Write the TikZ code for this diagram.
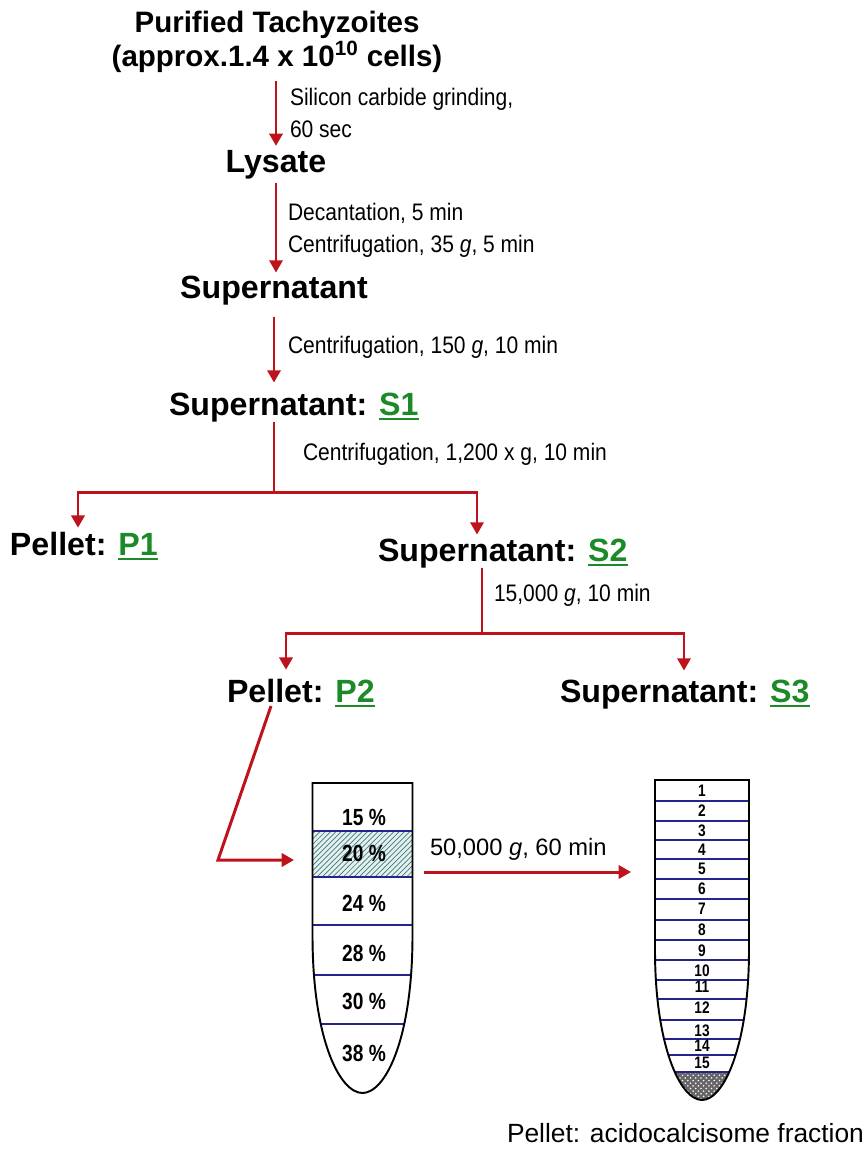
\documentclass[tikz,border=0pt]{standalone}
\usepackage{fontspec}
\setmainfont{Liberation Sans}
\newfontfamily\narrowfont{Liberation Sans}[FakeStretch=0.88]
\newfontfamily\tubefont{Liberation Sans}[FakeStretch=0.82]
\usepackage{tikz}
\usetikzlibrary{arrows.meta}
\usetikzlibrary{calc}
\usetikzlibrary{patterns}
\definecolor{arrowred}{RGB}{190,18,28}
\definecolor{fracgreen}{RGB}{28,138,40}
\definecolor{bandblue}{RGB}{36,36,140}
\definecolor{hatchteal}{RGB}{55,125,125}
\newcommand{\greenfrac}[1]{\textcolor{fracgreen}{\setbox0\hbox{#1}\rlap{\rule[-3pt]{\wd0}{1.1pt}}\box0}}

\begin{document}
\begin{tikzpicture}[x=0.02cm,y=-0.02cm,>={Triangle[length=7pt,width=7.5pt]},
  flow/.style={->,arrowred,line width=1.7pt},
  redline/.style={arrowred,line width=1.7pt},
  every node/.style={inner sep=0pt,outer sep=0pt},
  stage/.style={font=\fontsize{18.3}{22}\selectfont\bfseries},
  cond/.style={font=\narrowfont\fontsize{13.6}{18.2}\selectfont,align=left},
  pct/.style={font=\tubefont\fontsize{13.3}{16}\selectfont\bfseries},
  fracnum/.style={font=\tubefont\fontsize{9.5}{11}\selectfont\bfseries}]

  \useasboundingbox (0,0) rectangle (865,1157);

  \node[font=\fontsize{16.8}{19.2}\selectfont\bfseries,align=center,anchor=north] (tachy) at (277,11) {Purified Tachyzoites\\(approx.1.4 x 10\textsuperscript{10} cells)};
  \node[cond,anchor=north west] (grind) at (290,88) {Silicon carbide grinding,\\60 sec};
  \node[stage,anchor=base] (lys) at (276,172) {Lysate};
  \node[cond,anchor=north west] (decant) at (288,203) {Decantation, 5 min\\Centrifugation, 35 \textit{g}, 5 min};
  \node[stage,anchor=base] (sup) at (274,298) {Supernatant};
  \node[cond,anchor=base west] (c150) at (288,353) {Centrifugation, 150 \textit{g}, 10 min};
  \node[stage,anchor=base west] (s1) at (169,415) {Supernatant: \greenfrac{S1}};
  \node[cond,anchor=base west] (c1200) at (303,460) {Centrifugation, 1,200 x g, 10 min};
  \node[stage,anchor=base west] (p1) at (10,555) {Pellet: \greenfrac{P1}};
  \node[stage,anchor=base west] (s2) at (378,561) {Supernatant: \greenfrac{S2}};
  \node[cond,anchor=base west] (c15000) at (494,601) {15,000 \textit{g}, 10 min};
  \node[stage,anchor=base west] (p2) at (227,702) {Pellet: \greenfrac{P2}};
  \node[stage,anchor=base west] (s3) at (560,702) {Supernatant: \greenfrac{S3}};

  \draw[flow] ($(tachy.south -| lys)+(0,9)$) -- ($(lys.north)+(0,-4)$);
  \draw[flow] ($(lys.south)+(0,4)$) -- ($(lys.south |- sup.north)+(0,-3)$);
  \draw[flow] ($(sup.south)+(0,12)$) -- ($(sup.south |- s1.north)+(0,-10)$);

  \coordinate (split1) at (274,492);
  \draw[redline] (s1.south -| split1) -- (split1);
  \draw[flow] (split1) -| ($(p1.north west)+(68,-4)$);
  \draw[flow] (split1) -| ($(s2.north west)+(99,-4)$);

  \coordinate (split2) at (482,633);
  \draw[redline] (s2.south -| split2) -- (split2);
  \draw[flow] (split2) -| ($(p2.north west)+(59,-9)$);
  \draw[flow] (split2) -| ($(s3.north west)+(124,-9)$);

  % sucrose gradient
  \begin{scope}
    \clip (312.5,783) -- (312.5,935) .. controls (312.5,1040) and (340,1093) .. (362.5,1093) .. controls (385,1093) and (412.5,1040) .. (412.5,935) -- (412.5,783) -- cycle;
    \fill[hatchteal!12] (300,831) rectangle (425,877);
    \fill[pattern=north east lines,pattern color=hatchteal] (300,831) rectangle (425,877);
    \foreach \y in {831,877,925,975,1024}
      \draw[bandblue,line width=1.5pt] (300,\y) -- (425,\y);
  \end{scope}
  \draw[line width=1.1pt] (312.5,783) -- (312.5,935) .. controls (312.5,1040) and (340,1093) .. (362.5,1093) .. controls (385,1093) and (412.5,1040) .. (412.5,935) -- (412.5,783) -- cycle;
  \foreach \p/\y in {15/817,20/853,24/903,28/953,30/1001,38/1053}
    \node[pct] (c\p) at (364,\y) {\p\ \%};

  % fractions
  \begin{scope}
    \clip (655,780) -- (655,950) .. controls (655,1045) and (680,1100) .. (702,1100) .. controls (724,1100) and (749,1045) .. (749,950) -- (749,780) -- cycle;
    \fill[black!60] (640,1072) rectangle (760,1110);
    \fill[pattern=crosshatch dots,pattern color=white] (640,1072) rectangle (760,1110);
    \foreach \y in {801,821,840,859,879,899,920,940,960,980,999,1020,1039,1055,1072}
      \draw[bandblue,line width=1.5pt] (640,\y) -- (760,\y);
  \end{scope}
  \draw[line width=1.1pt] (655,780) -- (655,950) .. controls (655,1045) and (680,1100) .. (702,1100) .. controls (724,1100) and (749,1045) .. (749,950) -- (749,780) -- cycle;
  \foreach \n/\y in {1/791,2/811,3/831,4/850,5/869,6/889,7/909,8/930,9/951,10/971,11/987,12/1008,13/1031,14/1046,15/1063}
    \node[fracnum] (f\n) at (702,\y) {\n};

  \coordinate (bend) at (218,860);
  \coordinate (load) at (294,860);
  \draw[flow] ($(p2.base west)+(44,4)$) -- (bend) -- (load);

  \coordinate (spinA) at (424,872);
  \coordinate (spinB) at (631,872);
  \draw[flow] (spinA) -- (spinB);
  \node[anchor=base west,font=\fontsize{13.5}{16}\selectfont] (spin) at (430,855) {50,000 \textit{g}, 60 min};

  \node[anchor=base west,font=\fontsize{15}{18}\selectfont] (acido) at (507,1142) {Pellet: acidocalcisome fraction};

\end{tikzpicture}
\end{document}
